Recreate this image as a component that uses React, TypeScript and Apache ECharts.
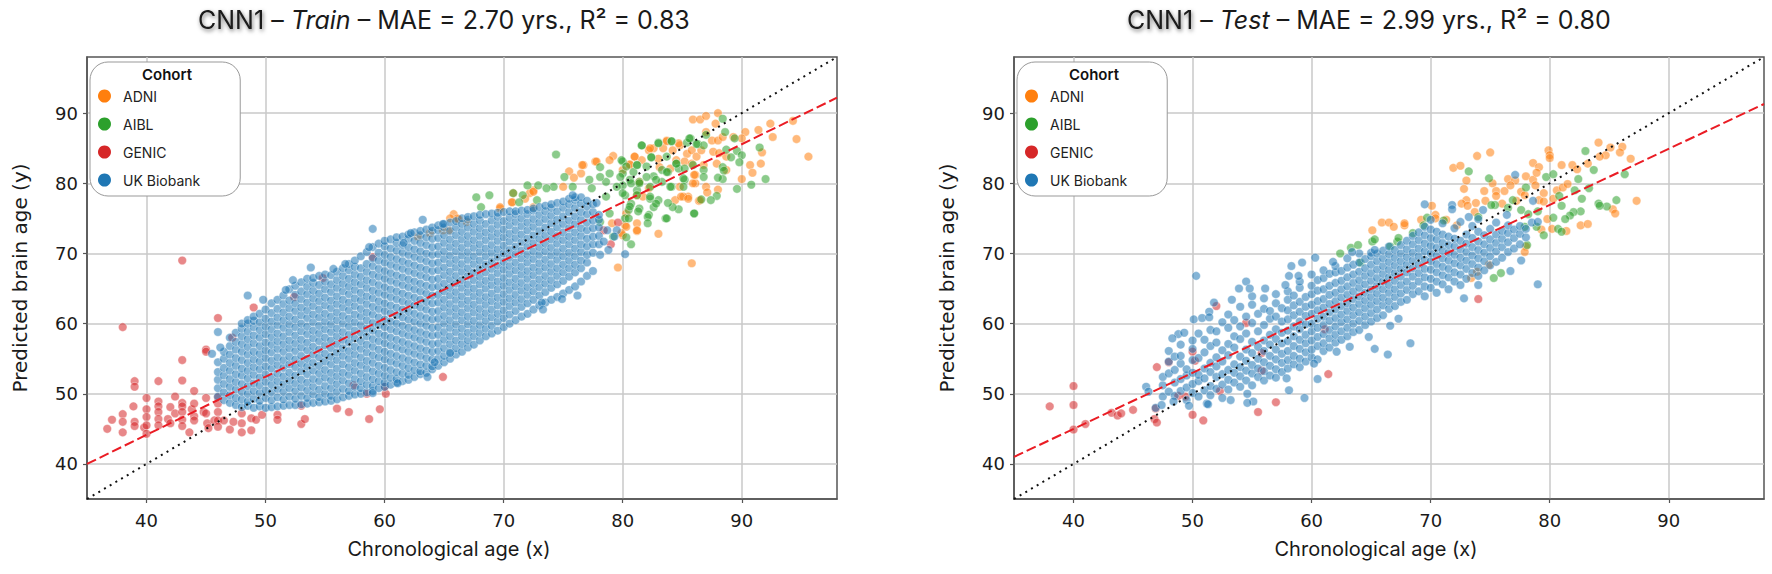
import React, { useRef, useEffect } from "react";
import * as echarts from "echarts";

type Col = [number, number[]];
type Pt = [number, number];

const ticks = [40, 50, 60, 70, 80, 90];
const cohorts = ["ADNI", "AIBL", "GENIC", "UK Biobank"];
const colors = ["#ff7f0e", "#2ca02c", "#d62728", "#1f77b4"];

const identityLine: Pt[] = [[35, 35], [98, 98]];
const trainFit: Pt[] = [[35, 40], [98, 92.2]];
const testFit: Pt[] = [[35, 41], [98, 91.3]];

const trainAdni: Pt[] = [[85.9,89.1],[86.5,89.1],[87,89.6],[88,90],[87.8,88.5],[87,87.3],[87.5,86.1],[88,86.1],[88.4,86.6],[89.3,86.6],[90.3,87.3],[91.4,87.6],[92.4,88.5],[94.3,88.9],[92.6,86.6],[94.6,86.3],[95.6,83.8],[91.7,84.4],[91.6,82.8],[90.7,82.6],[90.9,81.5],[90,80.6],[90,86.4],[88.7,83.8],[87.9,82.8],[88.7,81.9],[88,79.1],[87,79.5],[87.1,78.7],[86.1,80],[86.1,81.2],[85.5,78.1],[85.1,78.1],[86.4,77.5],[84.8,79.5],[85.4,84.2],[85.8,84.7],[86.2,83.8],[86.6,84.7],[84.8,85.4],[84.2,84.7],[83.7,86.1],[83.4,85],[82.6,85],[82.2,84.7],[81,83.8],[81.6,83.3],[83,83.5],[84.5,83.3],[85.2,83.1],[85.8,82.8],[86.8,82.6],[80,81.9],[80.6,82.6],[83.1,82.3],[84,82.1],[81.7,78.1],[81.2,78.3],[81.4,80.2],[82.2,79.3],[84.4,77.6],[80.3,75.7],[76.7,82.6],[77.7,83.1],[79.2,83.9],[78.9,83.3],[76.5,81.4],[75.5,81.7],[75.9,80.8],[81,83.8],[80.6,82.7],[82.3,85],[83.7,86],[84.7,85.7],[72.5,79],[72.2,78.6],[75,79.5],[70.7,77.3],[69.7,76.4],[65.8,75.6],[66.1,75],[66.9,74.5],[79.1,74.3],[80.2,74],[81.2,74.3],[81.2,73.2],[80,72.6],[83,72.8],[79.6,68],[85.8,68.6],[84.9,78.1],[85.5,77.8],[86.5,77.6],[85.9,80],[86,81.2],[87.6,84.5],[88.1,84.3],[65.5,75],[66.2,74.9],[64.9,73.3],[65.4,73.3],[62.8,72.4],[63.8,72.9],[69.7,76.6],[70.8,78.6],[72.5,78.8],[71.8,77.8],[70.7,77.3],[72.5,76.6],[76.6,82.6],[77.8,83.1],[80.3,73.8],[81.2,73.3],[79.9,72.9]];

const trainAibl: Pt[] = [[88.4,89.2],[88.6,87.3],[89.4,86.4],[91.5,85.1],[88.7,84.8],[89.6,84.6],[90,84],[89.1,83.7],[89.8,83],[88.4,82.3],[88.5,81.8],[88.4,80.6],[88,80.8],[92,80.6],[90.8,79.8],[89.6,79.2],[87.9,78.2],[87.4,77.6],[86.6,77.7],[86,75.7],[84.7,76.3],[84.2,76.6],[83.8,77.2],[83.6,75],[83,77.6],[82.6,76.6],[82.2,75.5],[84.1,86],[83,85.8],[81.6,85.4],[85.7,86.4],[85.4,85.8],[86.3,85.6],[86.8,85.4],[87,86.9],[82.4,83.7],[83.7,83.8],[84.5,82.8],[81.2,82.6],[80,83.1],[82,82.4],[80.9,81.6],[83.3,81.9],[83.8,81.6],[84.7,82.1],[85.2,82.1],[85.9,82.6],[86.8,81.9],[86.8,80.9],[85.2,80.5],[85.1,79.5],[84.1,79.5],[83.3,80.2],[82.6,81],[81.4,80.2],[80.6,80.5],[80,79.7],[81.2,79],[80.2,78.3],[80.7,77.1],[82.3,77.8],[81.4,76.4],[80.5,76.2],[80.2,75],[74.4,84.1],[75.1,80.9],[72.9,79.7],[67.7,78],[68.8,78.3],[68.1,76.6],[70.8,78.6],[72,79.7],[71.6,78.3],[71.3,77.3],[72.8,77.6],[74.2,79.5],[73.6,79.3],[75.8,79.5],[77.2,80.5],[78.1,82.3],[77.4,79.3],[78.6,80.2],[79.5,79.5],[78.6,78.1],[79.9,83.3],[81.2,82.6],[81.6,85.4],[83,85.7],[84.1,86],[82.4,83.7],[85.6,86.4],[86.2,85.6],[80,81.4],[82,80.9],[80.7,80],[82.3,79.5],[78.9,75.7],[80.5,75],[81.3,76],[82.1,75.2],[82.1,74.3],[80.7,71.3],[83.7,75],[86,75.7],[79.2,72.4],[80.3,72.3],[78.1,74.5],[78.1,80.9],[78.9,81.4],[79.8,80.9],[80.3,82.4],[81.4,80],[82.8,80.5],[83.7,81.6],[84.5,82.8],[85.1,80.7],[84,79.5],[82.3,78.1],[82.8,77.1],[81.2,78.3],[80,78.6],[80.6,76.7]];

const trainGenic: Pt[] = [[38,59.5],[43,69],[36.7,45],[37.1,46.3],[38,47.1],[38,46],[38,44.5],[39,51.8],[39,51],[38.9,48.2],[39,46],[39,45.4],[39.8,45.2],[40,49.4],[40,47.8],[40,46.7],[40,45.5],[40,44.3],[41,51.8],[41,48.9],[41,48.2],[41,47.4],[41,46.4],[41,45.5],[41.8,46.4],[42,48.1],[42,45.8],[42.4,49.6],[42.4,47.2],[43,54.8],[43,51.9],[43,48.7],[43,48.2],[43,47.4],[43,46.3],[43,45.4],[43.6,44.5],[43.8,47.8],[44,50.4],[44,48.6],[44,46.8],[44,46.2],[44.8,47.4],[45,49.4],[45,47.2],[45,56.3],[45,56],[45.1,45.8],[45.2,45.1],[45.7,46.2],[46,60.8],[46,49.5],[46,48.6],[46,47.4],[46,46.2],[46,45.3],[46.5,46.2],[47,44.9],[47.2,58],[47.3,46],[48,47.2],[48,45.8],[48,44.5],[48.8,46.5],[48.8,44.8],[49.2,46.3],[49.7,47],[49,62.3],[51,47],[51,46.3],[52.4,63.8],[53,45.7],[53.3,46.4],[53,48.3],[56,47.9],[57,47.4],[58.7,46.4],[59.6,47.8],[58.5,50],[60.1,50],[60,51],[64.9,52.4],[57.4,51.2],[54.8,66.5],[59,69.5],[79.6,74.4],[79,71.3],[78.4,73.3]];

const trainUkbOutliers: Pt[] = [[45.5,55.7],[46,58.8],[46.2,56.6],[48.5,64],[49.8,63.4],[51.7,64.8],[52.3,66.2],[53.8,68],[55.7,67.8],[56.7,68.5],[59,73.5],[58.7,70.9],[61.6,71.5],[63.2,74.8],[62.2,72.9],[64.9,74.2],[75.8,78.3],[77.8,77.2],[78.7,73.3],[79.5,73.3],[79.3,72.4],[78.8,70.5],[78.4,71.7],[78.1,69.8],[80.2,69.9],[74.9,63.5],[76.2,64],[73.2,63],[73.3,62],[63.6,52.4],[61.1,51.5],[59,50.1],[64.2,54.5],[65.5,55.8]];

const trainUkb: Col[] = [
  [46, [49.6,50.8,52,53.1,54.5]],
  [46.5, [49.1,50.2,51.4,52.6,53.7,55,56]],
  [47, [48.7,49.8,51,52.1,53.3,54.4,55.6,56.8,58]],
  [47.5, [48.4,49.4,50.6,51.7,52.8,54,55.1,56.3,57.4,58.7]],
  [48, [48.1,49.2,50.3,51.4,52.6,53.6,54.8,56,57.1,58.2,59.3,60]],
  [48.5, [48.3,48.9,50,51.1,52.2,53.3,54.4,55.6,56.7,57.8,58.9,60,60.5]],
  [49, [48,49.3,50.4,51.5,52.7,53.8,54.9,56,57.2,58.3,59.5,60.4,61]],
  [49.5, [48.2,49,50.1,51.2,52.3,53.5,54.6,55.7,56.8,58,59.1,60.2,61.4]],
  [50, [48,49.4,50.5,51.7,52.8,53.9,55.1,56.2,57.3,58.5,59.6,60.7,62]],
  [50.5, [48.1,49.1,50.2,51.3,52.4,53.6,54.7,55.9,57,58.1,59.2,60.3,61.5,62.9]],
  [51, [48.2,49.5,50.7,51.8,52.9,54.1,55.2,56.4,57.5,58.6,59.8,60.9,62.1,63.4]],
  [51.5, [48.3,49.2,50.3,51.4,52.5,53.7,54.8,56,57.1,58.2,59.4,60.5,61.6,62.8,64]],
  [52, [48.4,49.6,50.8,51.9,53,54.2,55.3,56.5,57.6,58.8,59.9,61,62.2,63.3,64.9]],
  [52.5, [48.4,49.3,50.4,51.5,52.6,53.8,54.9,56.1,57.2,58.3,59.5,60.6,61.8,62.9,64.1,65.4]],
  [53, [48.5,49.7,50.9,52,53.2,54.3,55.4,56.6,57.7,58.9,60,61.2,62.3,63.5,64.6,65.9]],
  [53.5, [48.6,49.4,50.5,51.6,52.8,53.9,55,56.2,57.3,58.5,59.6,60.8,61.9,63,64.2,65.3,66.4]],
  [54, [48.7,49.9,51,52.1,53.3,54.4,55.6,56.7,57.9,59,60.2,61.3,62.5,63.6,64.7,65.8,66.5]],
  [54.5, [48.8,49.5,50.6,51.8,52.9,54,55.2,56.3,57.5,58.6,59.7,60.9,62,63.2,64.3,65.5,66.8]],
  [55, [48.9,50,51.1,52.3,53.4,54.6,55.7,56.9,58,59.2,60.3,61.4,62.6,63.7,64.9,66,67]],
  [55.5, [49,49.7,50.8,51.9,53,54.2,55.3,56.5,57.6,58.8,59.9,61,62.2,63.3,64.5,65.6,66.9]],
  [56, [49.2,50.3,51.4,52.5,53.6,54.8,55.9,57.1,58.2,59.3,60.5,61.6,62.8,63.9,65.1,66.2,67.4]],
  [56.5, [49.5,50.7,51.9,53,54.2,55.4,56.5,57.7,58.8,60,61.1,62.3,63.4,64.6,65.7,66.8,67.9]],
  [57, [49.7,50.4,51.5,52.7,53.8,55,56.1,57.3,58.4,59.6,60.7,61.9,63,64.2,65.3,66.4,67.6,68.5]],
  [57.5, [49.9,51,52.1,53.3,54.4,55.6,56.7,57.9,59,60.2,61.3,62.5,63.6,64.8,65.9,67,68.1,69]],
  [58, [50,50.8,51.8,52.9,54.1,55.2,56.4,57.5,58.7,59.8,61,62.1,63.3,64.4,65.6,66.7,67.9,69.6]],
  [58.5, [50.2,51.3,52.4,53.6,54.7,55.9,57,58.2,59.3,60.5,61.6,62.8,63.9,65.1,66.2,67.4,68.5,70.2]],
  [59, [50.4,51.1,52.1,53.2,54.4,55.5,56.7,57.8,59,60.1,61.3,62.4,63.6,64.7,65.9,67,68.2,69.3,70.9]],
  [59.5, [50.8,51.8,52.9,54,55.2,56.3,57.5,58.6,59.8,60.9,62.1,63.2,64.4,65.5,66.7,67.8,69,70.1,71.4]],
  [60, [51,51.6,52.6,53.7,54.9,56,57.2,58.3,59.5,60.6,61.8,62.9,64.1,65.2,66.4,67.5,68.7,69.8,71,71.8]],
  [60.5, [51.3,52.3,53.4,54.6,55.7,56.9,58,59.2,60.3,61.5,62.6,63.8,64.9,66.1,67.2,68.4,69.5,70.7,72]],
  [61, [51.6,52.1,53.1,54.3,55.4,56.6,57.7,58.9,60,61.2,62.3,63.5,64.6,65.8,66.9,68.1,69.2,70.4,71.5,72.3]],
  [61.5, [51.8,52.9,54,55.1,56.3,57.4,58.6,59.7,60.9,62,63.2,64.3,65.5,66.6,67.8,68.9,70.1,71.2,72.4]],
  [62, [52,52.7,53.7,54.8,56,57.1,58.3,59.4,60.6,61.7,62.9,64,65.2,66.3,67.5,68.6,69.8,70.9,72.1,72.7]],
  [62.5, [52.4,53.4,54.5,55.7,56.8,58,59.1,60.3,61.4,62.6,63.7,64.9,66,67.2,68.3,69.5,70.6,71.8,73]],
  [63, [52.8,53.2,54.2,55.4,56.5,57.7,58.8,60,61.1,62.3,63.4,64.6,65.7,66.9,68,69.2,70.3,71.5,72.6,73.2]],
  [63.5, [53,54,55.1,56.2,57.4,58.5,59.7,60.8,62,63.1,64.3,65.4,66.6,67.7,68.9,70,71.2,72.3,73.4]],
  [64, [53.5,53.9,54.9,56,57.1,58.3,59.4,60.6,61.7,62.9,64,65.2,66.3,67.5,68.6,69.8,70.9,72.1,73.2,73.7]],
  [64.5, [54,55,56.1,57.2,58.4,59.5,60.7,61.8,63,64.1,65.3,66.4,67.6,68.7,69.9,71,72.2,73.3,74]],
  [65, [54.5,55.4,56.5,57.7,58.8,60,61.1,62.3,63.4,64.6,65.7,66.9,68,69.2,70.3,71.5,72.6,73.7,74.2]],
  [65.5, [55,56,57.1,58.2,59.4,60.5,61.7,62.8,64,65.1,66.3,67.4,68.6,69.7,70.9,72,73.2,74.4]],
  [66, [55.6,56.5,57.6,58.8,59.9,61.1,62.2,63.4,64.5,65.7,66.8,68,69.1,70.3,71.4,72.6,73.7,74.6]],
  [66.5, [56,57.1,58.2,59.3,60.5,61.6,62.8,63.9,65.1,66.2,67.4,68.5,69.7,70.8,72,73.1,74.2,75]],
  [67, [56.6,57.6,58.7,59.9,61,62.2,63.3,64.5,65.6,66.8,67.9,69.1,70.2,71.4,72.5,73.7,74.8,75.2]],
  [67.5, [57,58.2,59.3,60.4,61.6,62.7,63.9,65,66.2,67.3,68.5,69.6,70.8,71.9,73.1,74.2,75.3]],
  [68, [57.6,58.7,59.8,61,62.1,63.3,64.4,65.6,66.7,67.9,69,70.2,71.3,72.5,73.6,74.7,75.5]],
  [68.5, [58.2,59.3,60.4,61.5,62.7,63.8,65,66.1,67.3,68.4,69.6,70.7,71.9,73,74.2,75.6]],
  [69, [58.6,59.7,60.9,62,63.2,64.3,65.5,66.6,67.8,68.9,70.1,71.2,72.4,73.5,74.7,75.7]],
  [69.5, [59,60.3,61.4,62.6,63.7,64.9,66,67.2,68.3,69.5,70.6,71.8,72.9,74.1,75.2,75.8]],
  [70, [59.5,60.8,61.9,63.1,64.2,65.4,66.5,67.7,68.8,70,71.1,72.3,73.4,74.6,75.9]],
  [70.5, [60,61.3,62.5,63.6,64.8,65.9,67.1,68.2,69.4,70.5,71.7,72.8,74,75.1,76]],
  [71, [60.5,61.8,63,64.1,65.3,66.4,67.6,68.7,69.9,71,72.2,73.3,74.5,75.6,76]],
  [71.5, [61,62.4,63.5,64.7,65.8,67,68.1,69.3,70.4,71.6,72.7,73.9,75,76.1]],
  [72, [61.4,62.9,64.1,65.2,66.4,67.5,68.7,69.8,71,72.1,73.3,74.4,75.6,76.2]],
  [72.5, [62,63.4,64.6,65.7,66.9,68,69.2,70.3,71.5,72.6,73.8,74.9,76.1,76.4]],
  [73, [62.6,64,65.2,66.3,67.5,68.6,69.8,70.9,72.1,73.2,74.4,75.5,76.6]],
  [73.5, [63,64.5,65.7,66.8,68,69.1,70.3,71.4,72.6,73.7,74.9,76,76.8]],
  [74, [63.4,65.1,66.2,67.4,68.5,69.7,70.8,72,73.1,74.3,75.4,76.5,77]],
  [74.5, [63.8,65.6,66.8,67.9,69.1,70.2,71.4,72.5,73.7,74.8,76,77.2]],
  [75, [64.3,66.1,67.3,68.4,69.6,70.7,71.9,73,74.2,75.3,76.5,77.4]],
  [75.5, [64.8,66.7,67.9,69,70.1,71.3,72.4,73.6,74.7,75.9,77,77.8]],
  [76, [65.3,67.3,68.4,69.6,70.7,71.9,73,74.2,75.3,76.5,77.6,78]],
  [76.5, [66,67.9,69,70.2,71.3,72.5,73.6,74.8,75.9,77.1,78]],
  [77, [66.8,68.7,69.8,71,72.1,73.3,74.4,75.6,76.7,77.5]],
  [77.5, [67.5,70.1,71.3,72.4,73.6,74.7,75.9,77]],
  [78, [71.3,72.5,73.7,74.8,75.5]],
];

const testAdni: Pt[] = [[71.9,82.2],[72.5,82.5],[73.9,83.9],[75,84.4],[73,80.4],[72.8,79.2],[75.2,80],[74.5,78.9],[75.5,78.9],[75.5,78.2],[76.2,78.9],[76.5,80.6],[77.1,80.4],[76.7,79.7],[77.6,78.8],[78,81],[78.6,80.5],[78.8,79.7],[78.6,82.9],[79.1,82.3],[78.9,81.5],[79.9,84.7],[80,84],[80,83.6],[81,82.6],[81.9,82.6],[82.3,82],[83.2,82.8],[84.1,85.8],[85.1,85.1],[86.1,85.2],[85.9,84.4],[84.7,84],[84.2,83.8],[86.8,83.5],[87.3,77.5],[85.3,76.3],[85.5,75.7],[82.6,74],[83.2,74.2],[80.2,73.5],[81.4,73.2],[79.3,73.4],[79.8,74.9],[79.5,78.6],[79.1,77.6],[80.3,77.8],[80.6,79],[81.1,79.4],[81.5,79.9],[79.5,77.4],[77.9,78.3],[77.2,77.5],[76,77.1],[74.6,77.5],[73.8,77.2],[73,77.6],[72.6,77.1],[73.1,76.8],[73.7,75.9],[70.1,76.8],[70.4,75.5],[70.4,75],[69.2,74.8],[71.3,74.8],[72.2,74],[67.8,74],[78,71],[77.9,70.2],[74.9,68.4],[73.4,66.5],[73.9,67.4],[65.1,73.3],[65.9,74.4],[66.5,74.4],[66.9,73.8],[67.8,74.3]];

const testAibl: Pt[] = [[73.2,81.7],[74.9,80.7],[78,79.4],[79.7,80.9],[80.3,81.3],[83,84.6],[83.7,81.9],[82.4,80.6],[86.3,81.3],[85.6,77.6],[84.8,76.7],[84.1,77.1],[84.2,76.8],[82.7,77.8],[83.3,79.3],[82.1,79],[80.8,78.2],[81,76.8],[82.6,76],[82,75.9],[81.7,75.4],[81.3,74.9],[80.3,75.1],[80.7,73.5],[81,73.1],[79.5,72.6],[78.9,73.8],[79,76],[77.6,76.2],[78.2,75.6],[76.9,77.6],[76.5,76.5],[75.4,76.9],[75.1,76.9],[74,75.2],[71.1,74.7],[69.4,74],[69.7,75.1],[77.9,73.8],[78.1,71.2],[75.9,67.2],[75.3,66.5],[62.4,70],[63.3,70.8],[63.9,71.2],[64.1,68.7],[65.1,71.7],[65.3,72],[67.2,71.7],[67.3,72.2],[68.5,72.9],[66.6,71]];

const testGenic: Pt[] = [[38,48.2],[40,51.1],[40,48.4],[40,44.9],[41,45.7],[43.2,47.3],[43.7,46.9],[44,47.2],[45,47.7],[46.8,46.4],[47,45.9],[47,53.8],[46.9,47.9],[48,54.5],[48.8,49.7],[49.4,49.6],[50,47],[50.9,46.2],[50,56],[50.2,54.7],[52.3,50.4],[52,62.5],[54.5,60.1],[55.5,47.4],[57,48.8],[55.8,53.3],[55.8,55.8],[61.4,52.8],[61.1,59.2],[74,63.5]];

const testUkbOutliers: Pt[] = [[50.3,66.8],[51.8,63],[54.5,66],[53.9,65],[54.8,65],[56.1,65],[53.3,63.4],[58.3,68.2],[59.2,68.7],[58.1,66.8],[58.9,66.8],[60.3,69.4],[57.8,65.5],[61.8,68.8],[63.4,70.2],[65.3,70.5],[66.4,55.6],[65.3,56.4],[63.2,56.7],[62.1,56],[60.2,54.3],[60.5,52.1],[59.4,49.4],[58.1,50.5],[57.9,52.2],[51.2,48.6],[49.7,48.3],[54.6,50],[55.1,48.9],[54.6,48.7],[53.2,49.1],[52.5,49.4],[48.8,58.5],[49.3,58.7],[48.3,57.9],[50.1,60.6],[50.8,60.8],[51.4,61.7],[51.4,60.9],[46.1,51],[46.3,50.3],[46.9,48],[47.4,48.4],[48.4,48.9],[51.3,48.5],[79,65.6],[77.1,81.2],[69.5,77],[71.8,76.9],[71.8,76.3],[73.2,75.2],[74.4,76.2],[76.4,75.5],[78.5,74.4],[79,74.5],[78.6,77.5],[77.6,69],[76.7,67.5],[74,65.5],[72.8,63.6],[67.3,60.7],[66.6,59.7],[68.3,57.2],[64.8,58.1]];

const testUkb: Col[] = [
  [47.5, [49.6,51.2,52.4]],
  [48, [50.3,52.9,54.6,56.1]],
  [48.5, [49.7,51.6,53.4,55.3]],
  [49, [50.4,52.1,54.3,55.4,57]],
  [49.5, [49.1,50.9,52.6,53.5]],
  [50, [50.1,51.4,53,54.8,56.4,57.6]],
  [50.5, [49.6,51.8,52.7,55.1,58.6]],
  [51, [50.5,52.2,53.6,55.9,57.7]],
  [51.5, [49.8,51.1,53.1,54.4,56.8,59.1]],
  [52, [50.7,52.4,53.9,55.2,57.3,58.9]],
  [52.5, [51.3,52.8,54.6,56.2,60.2]],
  [53, [50.6,52,53.4,55.5,57.1,59.4,61.3]],
  [53.5, [51.6,53,54.2,56.6,58.2,60.5]],
  [54, [51,52.5,53.8,55.3,57.8,59.6,62.4]],
  [54.5, [51.9,53.3,54.7,56.3,58.6,61]],
  [55, [51.2,52.9,54.1,55.8,57.4,60.1,62.7,63.9]],
  [55.5, [52.4,53.6,55,56.7,58.9,61.4]],
  [56, [51.9,53.2,54.5,56.1,57.6,59.8,62.1,63.6]],
  [56.5, [52.6,54,55.4,57,58.4,60.7,61.8]],
  [57, [52.3,53.5,54.9,56.3,57.8,59.2,61,62.9,64.2]],
  [57.5, [53.1,54.4,55.7,57.2,58.7,60.3,62.2]],
  [58, [53.6,54.8,56.1,57.5,59,60.6,61.9,63.4,64.6]],
  [58.5, [54.2,55.4,56.8,58.2,59.6,61.2,62.6,64]],
  [59, [53.8,55,56.4,57.7,59.2,60.3,61.7,63.1,65.1,66]],
  [59.5, [54.6,55.9,57.2,58.4,59.9,61.1,62.4,63.8]],
  [60, [55.2,56.3,57.6,58.9,60,61.4,62.7,64.2,65.4,67]],
  [60.5, [54.9,56.8,58.1,59.4,60.7,61.9,63.2,64.7,66.2]],
  [61, [56.1,57.2,58.5,59.8,61,62.3,63.5,64.9,66.5,67.6]],
  [61.5, [56.6,57.9,59.1,60.4,61.6,62.8,64.1,65.4,67.1]],
  [62, [57.3,58.4,59.6,60.8,62,63.2,64.4,65.8,67.3,68.2]],
  [62.5, [57.7,58.9,60.2,61.3,62.5,63.7,64.9,66.1,67.5]],
  [63, [58.2,59.4,60.6,61.8,62.9,64.1,65.3,66.6,68,69.3]],
  [63.5, [58.8,60,61.2,62.3,63.5,64.6,65.8,67,68.4]],
  [64, [59.1,60.4,61.6,62.8,63.9,65.1,66.2,67.4,68.7,70]],
  [64.5, [59.8,61,62.2,63.3,64.4,65.6,66.8,67.9,69.2]],
  [65, [60.3,61.5,62.7,63.8,64.9,66.1,67.2,68.4,69.6,70.1]],
  [65.5, [60.8,62,63.2,64.3,65.4,66.5,67.7,68.9,70]],
  [66, [61.2,62.6,63.7,64.9,66,67.1,68.2,69.3,70.4]],
  [66.5, [62.1,63.2,64.4,65.5,66.6,67.7,68.8,69.9,71]],
  [67, [62.5,63.8,64.9,66.1,67.2,68.3,69.4,70.5]],
  [67.5, [63.1,64.3,65.5,66.7,67.8,68.9,70,71.2]],
  [68, [63.4,64.8,66,67.3,68.4,69.5,70.6,71.8]],
  [68.5, [64.2,65.4,66.7,67.9,69,70.1,71.3,72.5]],
  [69, [64.6,66,67.2,68.4,69.6,70.7,71.9,73]],
  [69.5, [63.9,65.3,66.6,67.8,69.1,70.3,71.4,72.6,73.8]],
  [70, [65.1,66.4,67.7,68.9,70,71.1,72.2,73.4,74.8]],
  [70.5, [64.4,66,67.3,68.5,69.7,70.8,72,73.1]],
  [71, [65.6,66.9,68.1,69.3,70.4,71.5,72.7,74.3]],
  [71.5, [64.9,66.6,67.8,69,70.1,71.2,72.4]],
  [72, [66,67.3,68.6,69.8,71,72.1,73.6]],
  [72.5, [65.5,67,68.3,69.4,70.6,71.8,74.5]],
  [73, [66.4,67.8,69,70.2,71.4,72.7]],
  [73.5, [67.2,68.5,69.7,70.9,72.2,73.9]],
  [74, [66.8,68,69.3,70.5,71.7,73.1,74.9]],
  [74.5, [67.6,68.9,70.1,71.3,72.6]],
  [75, [68.3,69.6,70.8,72,73.5]],
  [75.5, [68.8,70.3,71.5,72.7,74.4]],
  [76, [69.4,70.9,72.1,73.2]],
  [76.5, [70.2,71.6,72.9,74]],
  [77, [70.7,72.2,73.4]],
  [77.5, [71.3,72.8,73.9]],
  [78, [72.3,73.5]],
];

// columns are [age, predicted ages]
const expand = (cols: Col[]): Pt[] =>
  cols.flatMap(([x, ys]) => ys.map((y): Pt => [x, y]));

const font = "Inter";
const plotFont = "DejaVu Sans";

const makeAxes = (index: number, xName: string) => ({
  x: {
    type: "value",
    gridIndex: index,
    min: 35,
    max: 98,
    name: xName,
    nameLocation: "middle",
    nameGap: 40,
    nameTextStyle: { fontFamily: font, fontSize: 20, color: "#1a1a1a", padding: [0, 26, 0, 0] },
    axisLine: { lineStyle: { color: "#555", width: 1.5 } },
    axisTick: { customValues: ticks, length: 4, lineStyle: { color: "#555", width: 1.2 } },
    axisLabel: { customValues: ticks, fontFamily: plotFont, fontSize: 18, color: "#1a1a1a", margin: 12 },
    splitLine: { show: true, lineStyle: { color: "#c9c9c9", width: 1.5 } },
  },
  y: {
    type: "value",
    gridIndex: index,
    min: 35,
    max: 98,
    name: "Predicted brain age (y)",
    nameLocation: "middle",
    nameGap: 57,
    nameTextStyle: { fontFamily: plotFont, fontSize: 20, color: "#1a1a1a" },
    axisLine: { lineStyle: { color: "#555", width: 1.5 } },
    axisTick: { customValues: ticks, length: 4, lineStyle: { color: "#555", width: 1.2 } },
    axisLabel: { customValues: ticks, fontFamily: plotFont, fontSize: 18, color: "#1a1a1a", margin: 9 },
    splitLine: { show: true, lineStyle: { color: "#c9c9c9", width: 1.5 } },
  },
});

const scatter = (name: string, color: string, data: Pt[], index: number) => ({
  type: "scatter",
  name,
  xAxisIndex: index,
  yAxisIndex: index,
  data,
  symbolSize: 8.6,
  z: 3,
  itemStyle: { color, opacity: 0.55, borderColor: "#fff", borderWidth: 0.7 },
});

const fitLines = (index: number, fit: Pt[]) => [
  {
    type: "line",
    xAxisIndex: index,
    yAxisIndex: index,
    data: identityLine,
    symbol: "none",
    z: 5,
    lineStyle: { color: "#111", width: 2, type: [2, 4.6] },
  },
  {
    type: "line",
    xAxisIndex: index,
    yAxisIndex: index,
    data: fit,
    symbol: "none",
    z: 6,
    lineStyle: { color: "#ea1c24", width: 2, type: [10, 4] },
  },
];

const titleRich = {
  cnn: {
    fontFamily: font,
    fontSize: 25,
    color: "#1a1a1a",
    textShadowColor: "rgba(0,0,0,0.55)",
    textShadowBlur: 4,
    textShadowOffsetX: 1,
    textShadowOffsetY: 2,
  },
  it: { fontFamily: font, fontSize: 25, color: "#1a1a1a", fontStyle: "italic" },
};

const makeLegend = (left: number) => ({
  data: cohorts,
  left,
  top: 62,
  orient: "vertical",
  icon: "circle",
  itemWidth: 13,
  itemHeight: 13,
  itemGap: 14,
  padding: [27, 40, 9, 8],
  selectedMode: false,
  backgroundColor: "#fff",
  borderColor: "#999",
  borderWidth: 1,
  borderRadius: 18,
  itemStyle: { opacity: 1, borderWidth: 0 },
  textStyle: { fontFamily: font, fontSize: 14, color: "#222", padding: [0, 0, 0, 7] },
});

const App = () => {
  const chartRef = useRef<HTMLDivElement>(null);

  useEffect(() => {
    const chart = echarts.init(chartRef.current, null, { renderer: "svg" });
    const left = makeAxes(0, "Chronological age (x)");
    const right = makeAxes(1, "Chronological age (x)");
    chart.setOption({
      animation: false,
      backgroundColor: "#fff",
      title: [
        {
          text: "{cnn|CNN1} – {it|Train} – MAE = 2.70 yrs., R² = 0.83",
          left: 193,
          top: 2,
          textStyle: { fontFamily: font, fontSize: 25, fontWeight: 400, color: "#1a1a1a", rich: titleRich },
        },
        {
          text: "{cnn|CNN1} – {it|Test} – MAE = 2.99 yrs., R² = 0.80",
          left: 1122,
          top: 2,
          textStyle: { fontFamily: font, fontSize: 25, fontWeight: 400, color: "#1a1a1a", rich: titleRich },
        },
      ],
      grid: [
        { left: 87, top: 57, width: 750, height: 442, show: true, borderColor: "#555", borderWidth: 1.5, backgroundColor: "#fff" },
        { left: 1014, top: 57, width: 750, height: 442, show: true, borderColor: "#555", borderWidth: 1.5, backgroundColor: "#fff" },
      ],
      xAxis: [left.x, right.x],
      yAxis: [left.y, right.y],
      legend: [makeLegend(90), makeLegend(1017)],
      graphic: [
        { type: "text", x: 167, y: 74, z: 100, style: { text: "Cohort", font: `600 15px ${font}`, fill: "#111", align: "center", verticalAlign: "middle" } },
        { type: "text", x: 1094, y: 74, z: 100, style: { text: "Cohort", font: `600 15px ${font}`, fill: "#111", align: "center", verticalAlign: "middle" } },
      ],
      series: [
        scatter(cohorts[0], colors[0], trainAdni, 0),
        scatter(cohorts[1], colors[1], trainAibl, 0),
        scatter(cohorts[2], colors[2], trainGenic, 0),
        scatter(cohorts[3], colors[3], [...expand(trainUkb), ...trainUkbOutliers], 0),
        ...fitLines(0, trainFit),
        scatter(cohorts[0], colors[0], testAdni, 1),
        scatter(cohorts[1], colors[1], testAibl, 1),
        scatter(cohorts[2], colors[2], testGenic, 1),
        scatter(cohorts[3], colors[3], [...expand(testUkb), ...testUkbOutliers], 1),
        ...fitLines(1, testFit),
      ],
    });
    return () => {
      chart.dispose();
    };
  }, []);

  return <div ref={chartRef} style={{ position: "absolute", left: 0, top: 0, width: 1772, height: 574 }} />;
};

export default App;
